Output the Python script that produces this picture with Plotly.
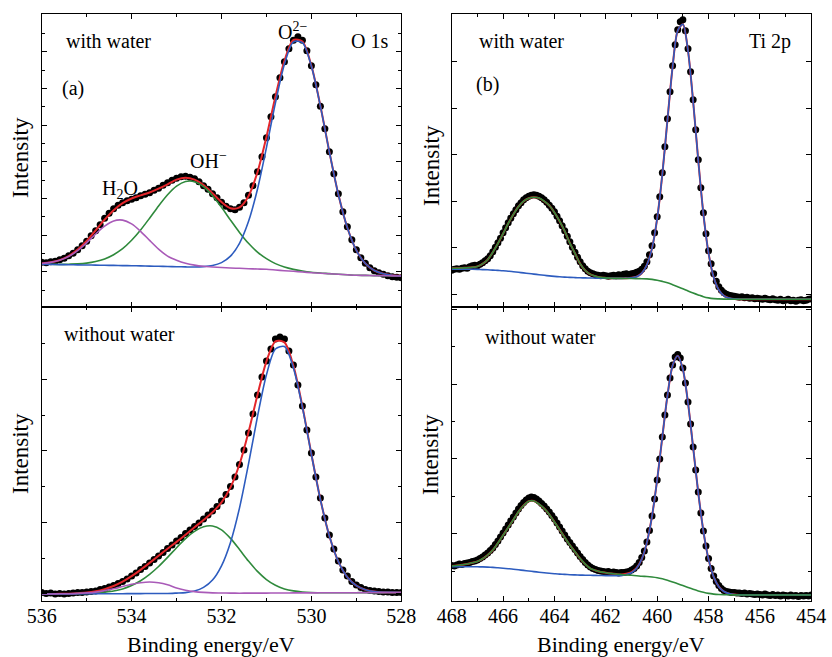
import plotly.graph_objects as go

W, H = 832, 657


def step_grid(start, stop, step):
    n = int(round((start - stop) / step)) + 1
    return [round(start - i * step, 1) for i in range(n)]


# ---------------- energy grids (binding energy, eV) ----------------
E_O1S_SCAN = step_grid(536.0, 528.0, 0.1)   # measured points
E_O1S_FIT = step_grid(536.0, 528.0, 0.2)    # fitted curves
E_TI_SCAN = step_grid(468.0, 454.0, 0.1)
E_TI_FIT = step_grid(468.0, 454.0, 0.2)

# ---------------- (a) O 1s, with water (intensity, a.u.) ----------------
o1s_w_data = [44.5, 44.0, 45.0, 45.5, 47.0, 48.5, 51.0, 53.5, 57.0, 61.0,
              65.5, 71.0, 76.0, 82.0, 88.5, 93.5, 98.0, 101.5, 104.0, 106.0,
              107.5, 109.0, 111.0, 112.5, 114.0, 116.5, 118.5, 121.5, 124.0, 126.5,
              128.5, 130.0, 130.5, 129.5, 128.0, 125.0, 121.0, 117.5, 113.0, 109.0,
              104.5, 100.5, 98.0, 97.0, 99.5, 104.0, 111.5, 121.0, 135.0, 150.0,
              169.0, 190.0, 210.0, 229.0, 245.0, 258.0, 266.5, 270.0, 266.5, 256.0,
              241.0, 222.0, 200.5, 178.0, 155.0, 133.0, 113.0, 95.0, 80.0, 67.0,
              57.0, 49.0, 43.5, 39.0, 36.0, 34.0, 32.5, 31.0, 30.0, 29.5,
              29.0]
o1s_w_fit = [43.2, 44.4, 46.6, 50.7, 57.1, 65.8, 76.3, 87.0, 96.5, 103.5,
             108.2, 111.3, 114.2, 118.0, 122.4, 127.1, 129.0, 127.1, 121.7, 113.5,
             104.7, 98.5, 99.3, 110.5, 134.4, 169.8, 210.2, 246.0, 266.7, 265.1,
             240.9, 200.8, 154.8, 112.2, 79.0, 56.4, 43.2, 36.2, 33.0, 31.5, 30.9]
o1s_w_h2o = [43.2, 44.3, 46.4, 50.2, 56.1, 63.9, 72.7, 80.6, 85.8, 86.6,
             82.8, 75.4, 66.3, 57.6, 50.6, 46.5, 43.5, 41.6, 40.4, 39.7,
             39.2, 38.7, 38.4, 38.0, 37.7, 37.4, 36.7, 36.0, 35.4, 34.7,
             34.0, 33.5, 33.0, 32.4, 31.9, 31.4, 31.3, 31.1, 31.0, 30.8, 30.7]
o1s_w_oh = [42.4, 42.4, 42.3, 42.5, 42.8, 43.6, 45.2, 47.8, 52.0, 58.0,
            66.4, 76.7, 88.5, 100.8, 112.0, 120.6, 125.2, 125.0, 120.0, 111.0,
            99.4, 86.6, 74.3, 63.4, 54.6, 48.1, 43.1, 39.6, 37.3, 35.7,
            34.5, 33.7, 33.1, 32.4, 31.9, 31.4, 31.3, 31.1, 31.0, 30.8, 30.7]
o1s_w_o2 = [42.4, 42.3, 42.1, 42.0, 41.8, 41.7, 41.6, 41.4, 41.3, 41.1,
            41.0, 40.8, 40.6, 40.4, 40.2, 40.0, 39.8, 39.7, 40.1, 41.2,
            44.1, 50.6, 63.4, 85.1, 117.5, 159.1, 203.8, 242.4, 264.8, 264.1,
            240.4, 200.6, 154.7, 112.2, 79.0, 56.4, 43.2, 36.2, 33.0, 31.5, 30.9]

# ---------------- O 1s, without water ----------------
o1s_d_data = [8.5, 7.5, 8.0, 7.0, 7.5, 7.0, 7.5, 8.0, 8.5, 8.5,
              9.0, 9.5, 10.0, 11.5, 12.5, 14.0, 15.5, 17.5, 19.5, 22.0,
              25.0, 28.0, 31.5, 34.5, 38.0, 41.5, 45.0, 48.5, 52.5, 56.0,
              60.0, 63.5, 67.5, 71.0, 74.5, 78.0, 82.0, 86.0, 90.0, 94.5,
              100.0, 106.5, 114.5, 124.0, 136.5, 151.0, 168.0, 187.0, 206.0, 224.0,
              240.0, 252.0, 262.0, 264.0, 262.0, 250.0, 236.0, 216.0, 195.0, 171.0,
              148.0, 124.0, 103.0, 83.0, 66.0, 52.0, 40.0, 31.0, 25.0, 19.5,
              16.0, 13.5, 11.5, 10.5, 10.0, 9.5, 9.0, 9.0, 8.5, 8.5,
              8.5]
o1s_d_fit = [7.0, 7.0, 7.2, 7.3, 7.8, 8.4, 9.7, 11.9, 15.0, 19.3,
             24.8, 31.1, 38.1, 45.2, 52.3, 59.1, 66.3, 73.7, 81.0, 88.7,
             98.7, 113.6, 136.7, 168.8, 206.0, 239.7, 259.7, 258.6, 235.1, 194.6,
             146.9, 101.6, 65.0, 39.4, 23.8, 15.3, 11.2, 9.4, 8.7, 8.6, 8.5]
o1s_d_h2o = [7.0, 7.0, 7.2, 7.3, 7.6, 8.1, 8.9, 10.4, 12.2, 14.5,
             16.7, 18.3, 19.0, 18.2, 16.2, 13.1, 10.8, 9.4, 8.6, 8.1,
             8.0, 7.9, 7.8, 7.9, 7.9, 7.9, 8.0, 8.0, 8.1, 8.1,
             8.1, 8.2, 8.2, 8.2, 8.3, 8.3, 8.4, 8.4, 8.4, 8.5, 8.5]
o1s_d_oh = [7.0, 7.0, 7.1, 7.2, 7.4, 7.6, 7.9, 8.8, 10.0, 12.1,
            15.5, 20.2, 26.6, 34.5, 43.6, 53.3, 62.3, 69.6, 74.2, 75.0,
            71.1, 62.6, 51.5, 39.9, 29.6, 21.4, 15.7, 12.1, 10.1, 9.0,
            8.5, 8.3, 8.2, 8.2, 8.3, 8.3, 8.4, 8.4, 8.4, 8.5, 8.5]
o1s_d_o2 = [7.0, 7.0, 7.1, 7.1, 7.2, 7.2, 7.2, 7.3, 7.3, 7.3,
            7.4, 7.4, 7.5, 7.5, 7.5, 7.9, 8.4, 9.9, 13.6, 21.0,
            35.2, 58.6, 92.9, 136.8, 184.3, 226.2, 252.0, 254.5, 233.1, 193.7,
            146.5, 101.5, 65.0, 39.4, 23.8, 15.3, 11.2, 9.4, 8.7, 8.6, 8.5]

# ---------------- (b) Ti 2p, with water ----------------
ti_w_data = [36.5, 37.5, 38.0, 37.5, 38.5, 39.0, 38.5, 40.0, 41.0, 41.5,
             41.0, 42.5, 44.0, 46.0, 48.0, 51.0, 55.0, 59.5, 64.0, 68.5,
             74.0, 79.0, 84.0, 88.5, 93.0, 97.0, 101.0, 104.0, 107.0, 109.0,
             110.5, 111.5, 112.0, 111.5, 110.5, 109.0, 107.0, 104.5, 101.5, 98.5,
             95.0, 90.5, 86.0, 81.0, 76.0, 70.5, 65.0, 59.5, 54.5, 49.5,
             45.0, 41.0, 38.0, 35.5, 34.0, 33.0, 32.0, 31.5, 31.0, 31.5,
             31.0, 30.5, 31.0, 31.5, 31.0, 32.0, 31.5, 32.5, 33.0, 32.0,
             33.0, 33.5, 34.5, 35.5, 37.5, 40.5, 45.0, 52.0, 61.0, 74.0,
             90.0, 110.0, 134.0, 160.0, 188.0, 215.0, 241.0, 262.0, 277.0, 285.0,
             287.0, 276.0, 258.0, 235.0, 207.0, 177.0, 147.0, 119.0, 94.0, 73.0,
             56.0, 43.0, 33.0, 25.5, 20.0, 16.5, 14.0, 12.5, 11.5, 11.0,
             10.5, 10.0, 9.5, 10.0, 9.0, 9.5, 8.5, 9.0, 8.0, 8.5,
             8.0, 7.5, 8.5, 7.5, 7.0, 8.0, 7.0, 6.5, 7.5, 6.0,
             6.5, 7.5, 6.0, 6.5, 5.5, 6.5, 7.0, 6.0, 6.5, 7.5,
             8.0]
ti_w_fit = [38.4, 38.5, 38.7, 39.0, 39.4, 40.3, 42.8, 47.0, 54.5, 63.2,
            73.0, 83.2, 92.3, 100.0, 105.5, 108.5, 109.4, 108.6, 105.5, 101.2,
            94.2, 85.5, 75.5, 63.5, 53.4, 43.0, 36.2, 32.3, 30.5, 29.3,
            28.8, 28.5, 28.5, 28.4, 28.5, 28.9, 30.0, 33.5, 41.8, 58.6,
            88.3, 132.3, 186.8, 239.9, 276.1, 282.5, 255.9, 205.2, 146.0, 92.6,
            53.5, 29.4, 16.7, 10.9, 8.6, 7.7, 7.5, 7.4, 7.4, 7.4,
            7.4, 7.4, 7.4, 7.4, 7.4, 7.4, 7.4, 7.4, 7.4, 7.4, 7.4]
ti_w_2p12 = [38.4, 38.5, 38.7, 39.0, 39.4, 40.3, 42.8, 47.0, 54.5, 63.2,
             73.0, 83.2, 92.3, 100.0, 105.5, 108.5, 109.4, 108.6, 105.5, 101.2,
             94.2, 85.5, 75.5, 63.5, 53.4, 43.0, 36.2, 32.3, 30.5, 29.3,
             28.8, 28.5, 28.3, 28.3, 28.2, 28.2, 28.1, 28.0, 27.8, 27.3,
             26.5, 25.3, 23.9, 22.0, 20.0, 18.0, 15.8, 13.7, 11.8, 10.0,
             8.8, 8.1, 7.8, 7.6, 7.5, 7.4, 7.4, 7.4, 7.4, 7.4,
             7.4, 7.4, 7.4, 7.4, 7.4, 7.4, 7.4, 7.4, 7.4, 7.4, 7.4]
ti_w_2p32 = [37.4, 37.4, 37.4, 37.4, 37.4, 37.3, 37.1, 36.9, 36.6, 36.3,
             36.0, 35.5, 35.0, 34.4, 33.8, 33.2, 32.6, 32.0, 31.4, 30.8,
             30.3, 29.9, 29.6, 29.3, 29.1, 28.9, 28.8, 28.7, 28.6, 28.5,
             28.4, 28.4, 28.3, 28.3, 28.4, 28.8, 30.0, 33.5, 41.8, 58.6,
             88.3, 132.3, 186.8, 239.9, 276.1, 282.5, 255.9, 205.2, 146.0, 92.6,
             53.5, 29.4, 16.7, 10.9, 8.6, 7.7, 7.5, 7.4, 7.4, 7.4,
             7.4, 7.4, 7.4, 7.4, 7.4, 7.4, 7.4, 7.4, 7.4, 7.4, 7.4]

# ---------------- Ti 2p, without water ----------------
ti_d_data = [35.5, 35.0, 36.0, 37.0, 36.5, 37.5, 38.0, 38.5, 39.5, 40.0,
             41.0, 42.5, 44.0, 46.0, 48.0, 50.5, 53.0, 56.5, 60.0, 64.0,
             68.0, 72.0, 76.0, 80.0, 84.0, 88.0, 92.0, 95.5, 98.5, 101.0,
             103.0, 104.0, 103.5, 102.0, 100.0, 97.5, 95.0, 92.0, 89.0, 85.5,
             82.0, 78.0, 74.0, 70.0, 66.0, 62.0, 58.5, 55.0, 51.5, 48.0,
             44.5, 41.5, 38.5, 36.0, 34.0, 32.5, 31.5, 30.5, 30.0, 29.5,
             29.0, 29.5, 28.5, 29.0, 28.5, 28.0, 28.5, 28.5, 29.0, 29.5,
             31.0, 32.5, 35.0, 38.5, 43.5, 50.0, 59.0, 70.5, 85.0, 102.0,
             121.0, 142.0, 164.0, 186.0, 206.0, 223.0, 236.0, 244.0, 246.5, 243.0,
             233.0, 218.0, 199.0, 177.0, 154.0, 131.0, 109.0, 88.0, 70.0, 55.0,
             42.5, 32.5, 25.0, 19.5, 15.5, 12.5, 10.5, 9.5, 9.0, 8.5,
             8.5, 8.0, 8.0, 7.5, 8.0, 7.0, 7.5, 7.0, 6.5, 7.0,
             6.5, 6.0, 7.0, 6.0, 5.5, 6.5, 5.5, 6.0, 5.0, 6.0,
             5.5, 5.0, 6.0, 5.0, 5.5, 4.5, 5.5, 5.0, 5.5, 5.0,
             6.0]
ti_d_fit = [35.0, 35.5, 36.2, 37.0, 38.2, 39.6, 42.2, 46.0, 51.0, 58.0,
            65.8, 73.5, 81.3, 89.2, 95.5, 99.8, 100.0, 96.8, 92.5, 86.5,
            79.0, 71.4, 63.5, 56.0, 49.2, 42.4, 36.9, 32.5, 30.5, 29.1,
            28.3, 27.6, 27.0, 26.5, 27.2, 28.9, 33.1, 42.0, 58.6, 85.0,
            121.3, 164.0, 205.4, 235.4, 245.3, 231.7, 198.1, 153.5, 108.1, 69.7,
            41.7, 24.1, 14.3, 9.5, 7.4, 6.5, 6.1, 6.0, 6.0, 6.0,
            6.0, 6.0, 6.0, 6.0, 6.0, 6.0, 6.0, 6.0, 6.0, 6.0, 6.0]
ti_d_2p12 = [35.0, 35.5, 36.2, 37.0, 38.2, 39.6, 42.2, 46.0, 51.0, 58.0,
             65.8, 73.5, 81.3, 89.2, 95.5, 99.8, 100.0, 96.8, 92.5, 86.5,
             79.0, 71.4, 63.5, 56.0, 49.2, 42.4, 36.9, 32.5, 30.5, 29.1,
             28.3, 27.6, 27.0, 26.5, 26.0, 25.7, 25.3, 24.8, 24.5, 24.0,
             23.3, 22.2, 20.8, 19.1, 17.3, 15.4, 13.5, 11.7, 10.1, 8.7,
             7.6, 6.9, 6.5, 6.3, 6.2, 6.1, 6.0, 6.0, 6.0, 6.0,
             6.0, 6.0, 6.0, 6.0, 6.0, 6.0, 6.0, 6.0, 6.0, 6.0, 6.0]
ti_d_2p32 = [34.3, 34.3, 34.3, 34.3, 34.3, 34.2, 34.1, 33.9, 33.6, 33.2,
             32.8, 32.3, 31.8, 31.2, 30.6, 30.0, 29.4, 28.8, 28.2, 27.7,
             27.3, 26.9, 26.6, 26.3, 26.1, 25.9, 25.8, 25.7, 25.6, 25.5,
             25.4, 25.4, 25.3, 25.3, 26.4, 28.3, 32.8, 42.0, 58.6, 85.0,
             121.3, 164.0, 205.4, 235.4, 245.3, 231.7, 198.1, 153.5, 108.1, 69.7,
             41.7, 24.1, 14.3, 9.5, 7.4, 6.5, 6.1, 6.0, 6.0, 6.0,
             6.0, 6.0, 6.0, 6.0, 6.0, 6.0, 6.0, 6.0, 6.0, 6.0, 6.0]

# ---------------- styling ----------------
RED = "#e3262b"
BLUE = "#2d5cbf"
GREEN = "#2f8a3c"
PURPLE = "#a95ab8"
FONT = "Liberation Serif"

fig = go.Figure()


def add_panel(ax, scan_x, scan_y, fit_x, curves):
    xa, ya = ax
    fig.add_trace(go.Scatter(x=scan_x, y=scan_y, mode="markers", xaxis=xa, yaxis=ya,
                             marker=dict(size=7, color="black"), showlegend=False,
                             hoverinfo="skip"))
    for ys, col, wid in curves:
        fig.add_trace(go.Scatter(x=fit_x, y=ys, mode="lines", xaxis=xa, yaxis=ya,
                                 line=dict(color=col, width=wid, shape="spline", smoothing=0.8),
                                 showlegend=False, hoverinfo="skip"))


add_panel(("x", "y"), E_O1S_SCAN, o1s_w_data, E_O1S_FIT,
          [(o1s_w_fit, RED, 2.0), (o1s_w_oh, GREEN, 1.6), (o1s_w_o2, BLUE, 1.6), (o1s_w_h2o, PURPLE, 1.6)])
add_panel(("x2", "y2"), E_TI_SCAN, ti_w_data, E_TI_FIT,
          [(ti_w_fit, RED, 2.0), (ti_w_2p32, BLUE, 1.6), (ti_w_2p12, GREEN, 1.6)])
add_panel(("x3", "y3"), E_O1S_SCAN, o1s_d_data, E_O1S_FIT,
          [(o1s_d_fit, RED, 2.0), (o1s_d_oh, GREEN, 1.6), (o1s_d_o2, BLUE, 1.6), (o1s_d_h2o, PURPLE, 1.6)])
add_panel(("x4", "y4"), E_TI_SCAN, ti_d_data, E_TI_FIT,
          [(ti_d_fit, RED, 2.0), (ti_d_2p32, BLUE, 1.6), (ti_d_2p12, GREEN, 1.6)])

# panel frames in pixels -> paper fractions
LX = [41.7 / W, 401.3 / W]
RX = [451.7 / W, 811.3 / W]
TOPY = [1 - 306.7 / H, 1 - 14.3 / H]
BOTY = [1 - 601.0 / H, 1 - 306.7 / H]

tickfont = dict(family=FONT, size=20, color="black")


def xaxis(dom, rng, anchor, labels):
    return dict(domain=dom, range=rng, anchor=anchor, showline=True, linecolor="black",
                linewidth=1.3, mirror="ticks", ticks="inside", ticklen=5, tickwidth=1,
                tickcolor="black", tick0=528, dtick=2, showgrid=False, zeroline=False,
                showticklabels=labels, tickfont=tickfont, fixedrange=True, automargin=False,
                ticklabelstandoff=-3,
                minor=dict(ticks="inside", ticklen=3, dtick=1, tickwidth=1,
                           tickcolor="black", showgrid=False))


def yaxis(dom, top, anchor, t0, dt, mdt):
    d = dict(domain=dom, range=[0, top], anchor=anchor, showline=True, linecolor="black",
             linewidth=1.3, mirror="ticks", ticks="inside", ticklen=5, tickwidth=1,
             tickcolor="black", tick0=t0, dtick=dt, showgrid=False, zeroline=False,
             showticklabels=False, fixedrange=True, automargin=False)
    if mdt:
        d["minor"] = dict(ticks="inside", ticklen=3, dtick=mdt, tick0=t0, tickwidth=1,
                          tickcolor="black", showgrid=False)
    return d


top_h = (TOPY[1] - TOPY[0]) * H
bot_h = (BOTY[1] - BOTY[0]) * H

fig.update_layout(
    width=W, height=H, autosize=False, margin=dict(l=0, r=0, t=0, b=0, pad=0),
    paper_bgcolor="white", plot_bgcolor="white",
    xaxis=xaxis(LX, [536, 528], "y", False),
    xaxis2=xaxis(RX, [468, 454], "y2", False),
    xaxis3=xaxis(LX, [536, 528], "y3", True),
    xaxis4=xaxis(RX, [468, 454], "y4", True),
    yaxis=yaxis(TOPY, top_h, "x", 35.0, 36.67, 18.33),
    yaxis2=yaxis(TOPY, top_h, "x2", 12.7, 46.5, None),
    yaxis3=yaxis(BOTY, bot_h, "x3", 7.1, 71.5, 35.75),
    yaxis4=yaxis(BOTY, bot_h, "x4", 67.3, 74.85, 37.4),
)


def note(text, px, py, size=20, angle=0):
    fig.add_annotation(text=text, x=px / W, y=1 - py / H, xref="paper", yref="paper",
                       showarrow=False, xanchor="center", yanchor="middle", textangle=angle,
                       font=dict(family=FONT, size=size, color="black"))


note("with water", 108, 41)
note("(a)", 73, 88)
note("O 1s", 369, 41)
note("O<sup>2−</sup>", 292, 31)
note("OH<sup>−</sup>", 208, 160)
note("H<sub>2</sub>O", 120, 189)
note("with water", 521, 41)
note("(b)", 487, 84)
note("Ti 2p", 770, 41)
note("without water", 120, 334)
note("without water", 540, 337)
note("Intensity", 20, 158, 23, -90)
note("Intensity", 431, 166, 23, -90)
note("Intensity", 20, 454, 23, -90)
note("Intensity", 430, 455, 23, -90)
note("Binding energy/eV", 211, 644, 22)
note("Binding energy/eV", 621, 644, 22)

fig.write_html(
    "out.html",
    config={"responsive": False, "displayModeBar": False},
    post_script="document.body.style.margin='0';document.body.style.overflow='hidden';",
)
